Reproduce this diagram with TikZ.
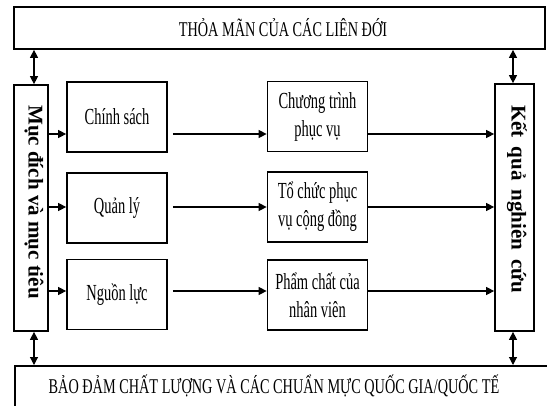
\documentclass[tikz,border=0pt]{standalone}
\usepackage{fontspec}
\setmainfont{Liberation Serif}
\newfontfamily\boxfont[FakeStretch=0.63]{Liberation Serif}
\newfontfamily\capfont[FakeStretch=0.68]{Liberation Serif}
\usetikzlibrary{arrows.meta}
\begin{document}
\begin{tikzpicture}[x=1pt,y=-1pt,
  frame/.style={draw, line width=1.7pt, inner sep=0pt},
  box/.style={frame, minimum width=100pt, minimum height=70pt, align=center,
    font=\boxfont\fontsize{23}{28}\selectfont},
  captxt/.style={inner sep=0pt, font=\capfont\fontsize{21}{24}\selectfont},
  sidetxt/.style={inner sep=0pt, rotate=-90, font=\bfseries\fontsize{21}{24}\selectfont},
  arr/.style={line width=1.1pt, -{Triangle[length=8pt,width=8pt]}},
  dbl/.style={line width=1.1pt, {Triangle[length=8pt,width=8pt]}-{Triangle[length=8pt,width=8pt]}}
]
\useasboundingbox (0,0) rectangle (547,405);
\clip (0,0) rectangle (547,405);

% top and bottom bands
\node[frame, minimum width=531pt, minimum height=42pt] (top) at (279.5,28) {};
\node[captxt] (toptxt) at (283,28) {THỎA MÃN CỦA CÁC LIÊN ĐỚI};
\node[frame, anchor=north west, minimum width=580pt, minimum height=70pt] (bot) at (14,365) {};
\node[captxt] (bottxt) at (274,386) {BẢO ĐẢM CHẤT LƯỢNG VÀ CÁC CHUẨN MỰC QUỐC GIA/QUỐC TẾ};

% side columns
\node[frame, minimum width=34pt, minimum height=246pt] (lbox) at (31,208) {};
\node[sidetxt] (ltxt) at (34,202) {Mục đích và mục tiêu};
\node[frame, minimum width=39pt, minimum height=247pt] (rbox) at (514.5,207.5) {};
\node[sidetxt] (rtxt) at (517,199) {\spaceskip=9pt\relax Kết quả nghiên cứu};

% inner boxes
\node[box] (cs) at (117,117) {Chính sách};
\node[box] (ql) at (117,208) {Quản lý};
\node[box] (nl) at (117,294.5) {Nguồn lực};
\node[box] (ct) at (317.5,116.5) {Chương trình\\phục vụ};
\node[box] (tc) at (317.5,207) {Tổ chức phục\\vụ cộng đồng};
\node[box] (pc) at (317.5,295) {Phẩm chất của\\nhân viên};

% row levels and vertical arrow lines
\coordinate (r1) at (0,134);
\coordinate (r2) at (0,207);
\coordinate (r3) at (0,291);
\coordinate (la) at (34,0);
\coordinate (ra) at (513,0);

\foreach \a/\b/\c/\r in {cs/ct/lbox/r1, ql/tc/lbox/r2, nl/pc/lbox/r3}{
  \draw[arr] (\c.east |- \r) -- (\a.west |- \r);
  \draw[arr] ([xshift=5pt]\a.east |- \r) -- (\b.west |- \r);
  \draw[arr] (\b.east |- \r) -- (rbox.west |- \r);
}

\draw[dbl] (la |- top.south) -- (la |- lbox.north);
\draw[dbl] (ra |- top.south) -- (ra |- rbox.north);
\draw[dbl] (la |- lbox.south) -- (la |- bot.north);
\draw[dbl] (ra |- rbox.south) -- (ra |- bot.north);
\end{tikzpicture}
\end{document}
